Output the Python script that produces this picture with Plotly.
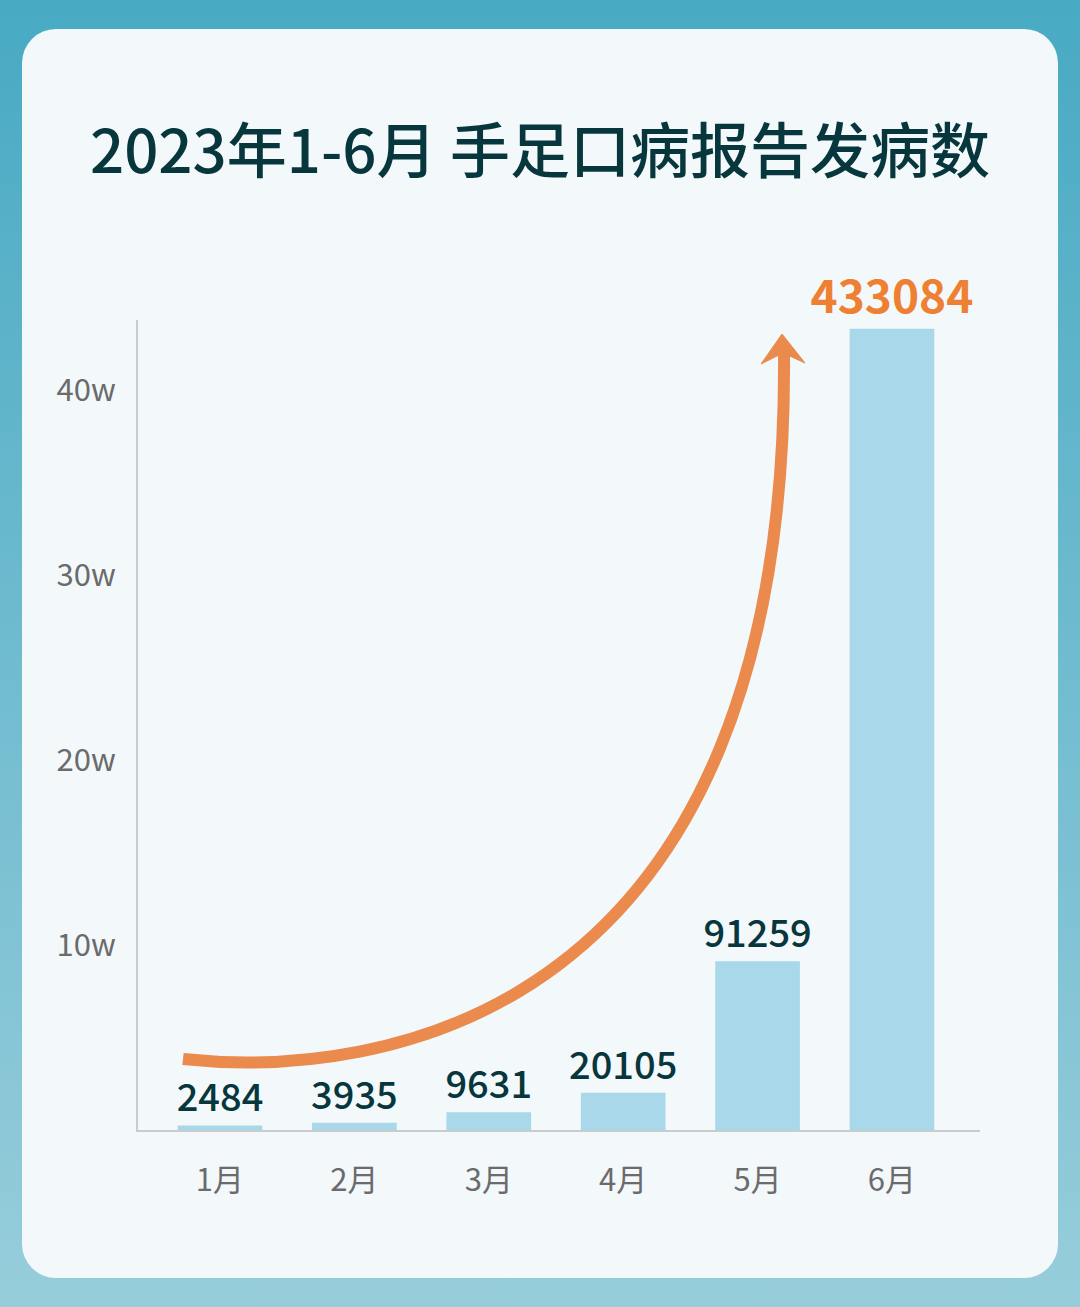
import base64
import plotly.graph_objects as go

months = ["1月", "2月", "3月", "4月", "5月", "6月"]
cases = [2484, 3935, 9631, 20105, 91259, 433084]
ytick_vals = [100000, 200000, 300000, 400000]
ytick_text = ["10w", "20w", "30w", "40w"]
title_text = "2023年1-6月 手足口病报告发病数"

W, H = 1080, 1307
L, R, T, B = 138, 980, 320, 1130  # plot area in pixels

def px(x, y):
    return (x - L) / (R - L), (B - y) / (B - T)

FONT = "Noto Sans CJK SC, Noto Sans, sans-serif"
DARK = "#07363C"
GRAY = "#6B6B6B"
ORANGE = "#EE8033"
ARROW = "#EA8A4C"
BAR = "#A8D8E9"

svg = f'''<svg xmlns="http://www.w3.org/2000/svg" width="{W}" height="{H}" viewBox="0 0 {W} {H}">
<defs><linearGradient id="g" x1="0" y1="0" x2="0" y2="1">
<stop offset="0" stop-color="#48AAC3"/><stop offset="1" stop-color="#97CDDB"/></linearGradient></defs>
<rect x="0" y="0" width="{W}" height="{H}" fill="url(#g)"/>
<rect x="22" y="29" width="1036" height="1249" rx="34" ry="34" fill="#F3F8FB"/>
</svg>'''
src = "data:image/svg+xml;base64," + base64.b64encode(svg.encode()).decode()

texts = [str(v) for v in cases]
texts[-1] = "<b>" + texts[-1] + "</b>"
colors = [DARK] * 5 + [ORANGE]
sizes = [38] * 5 + [46]

fig = go.Figure()
fig.add_trace(go.Bar(
    x=months, y=cases, width=0.63, marker=dict(color=BAR, line=dict(width=0)),
    text=texts, textposition="outside",
    textfont=dict(family=FONT, color=colors, size=sizes, weight=500),
    constraintext="none", cliponaxis=False, hoverinfo="skip",
))

# decorative arrow curve
p0, p1, p2, p3 = px(183, 1059), px(380, 1080), px(790, 1020), px(784, 352)
path = f"M {p0[0]},{p0[1]} C {p1[0]},{p1[1]} {p2[0]},{p2[1]} {p3[0]},{p3[1]}"
a, b, c, d = px(782, 334), px(805, 363), px(783, 353), px(761, 364)
head = f"M {a[0]},{a[1]} L {b[0]},{b[1]} L {c[0]},{c[1]} L {d[0]},{d[1]} Z"

ix, iy = px(0, 0)
fig.update_layout(
    width=W, height=H,
    margin=dict(l=L, r=W - R, t=T, b=H - B, pad=0),
    paper_bgcolor="#7FC0D2", plot_bgcolor="rgba(0,0,0,0)",
    showlegend=False,
    title=dict(text=title_text, x=0.5, xanchor="center", xref="container",
               y=1 - 152 / H, yanchor="middle", yref="container",
               font=dict(family=FONT, size=60, color=DARK, weight=500)),
    images=[dict(source=src, xref="paper", yref="paper", x=ix, y=iy,
                 sizex=W / (R - L), sizey=H / (B - T), xanchor="left", yanchor="top",
                 sizing="stretch", layer="below")],
    shapes=[
        dict(type="path", path=path, xref="paper", yref="paper",
             line=dict(color=ARROW, width=12), fillcolor="rgba(0,0,0,0)"),
        dict(type="path", path=head, xref="paper", yref="paper",
             line=dict(color=ARROW, width=1), fillcolor=ARROW),
    ],
    xaxis=dict(range=[-0.61, 5.655], showline=True, linecolor="#C9CCCD", linewidth=2,
               showgrid=False, zeroline=False, ticks="", ticklabelstandoff=22,
               tickfont=dict(family=FONT, size=31, color=GRAY), fixedrange=True),
    yaxis=dict(range=[0, 437800], showline=True, linecolor="#C9CCCD", linewidth=2,
               showgrid=False, zeroline=False, ticks="", ticklabelstandoff=14,
               tickvals=ytick_vals, ticktext=ytick_text,
               tickfont=dict(family=FONT, size=31, color=GRAY), fixedrange=True),
)

fig.write_html("out.html")
